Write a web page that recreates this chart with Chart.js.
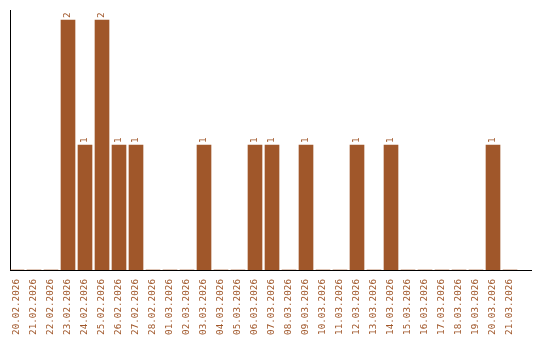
<!DOCTYPE html>
<html>
<head>
<meta charset="utf-8">
<script src="https://cdn.jsdelivr.net/npm/chart.js@4/dist/chart.umd.min.js"></script>
<style>
html,body{margin:0;padding:0;background:#fff;}
#wrap{width:540px;height:340px;}
</style>
</head>
<body>
<div id="wrap"><canvas id="c" width="540" height="340"></canvas></div>
<script>
const categories = ["20.02.2026","21.02.2026","22.02.2026","23.02.2026","24.02.2026","25.02.2026","26.02.2026","27.02.2026","28.02.2026","01.03.2026","02.03.2026","03.03.2026","04.03.2026","05.03.2026","06.03.2026","07.03.2026","08.03.2026","09.03.2026","10.03.2026","11.03.2026","12.03.2026","13.03.2026","14.03.2026","15.03.2026","16.03.2026","17.03.2026","18.03.2026","19.03.2026","20.03.2026","21.03.2026"];
const counts = [0,0,0,2,1,2,1,1,0,0,0,1,0,0,1,1,0,1,0,0,1,0,1,0,0,0,0,0,1,0];

const BROWN = '#a0572a';
const FONT = {family: "'DejaVu Sans Mono', monospace", size: 9.3};

const points = counts.map((v, i) => ({x: i, y: v}));

const valueLabels = {
  id: 'valueLabels',
  afterDatasetsDraw(chart) {
    const ctx = chart.ctx;
    const meta = chart.getDatasetMeta(0);
    ctx.save();
    ctx.fillStyle = BROWN;
    ctx.font = FONT.size + "px " + FONT.family;
    ctx.textAlign = 'left';
    ctx.textBaseline = 'middle';
    meta.data.forEach((bar, i) => {
      const v = counts[i];
      if (!v) return;
      ctx.save();
      ctx.translate(bar.x - 0.5, bar.y - 2);
      ctx.rotate(-Math.PI / 2);
      ctx.fillText(String(v), 0, 0);
      ctx.restore();
    });
    ctx.restore();
  }
};

new Chart(document.getElementById('c'), {
  type: 'bar',
  data: {
    datasets: [{
      data: points,
      backgroundColor: BROWN,
      borderWidth: 0,
      barThickness: 14
    }]
  },
  options: {
    responsive: false,
    animation: false,
    layout: {padding: {top: 10, left: 10, right: 9, bottom: 0}},
    plugins: {legend: {display: false}, tooltip: {enabled: false}},
    scales: {
      x: {
        type: 'linear',
        offset: false,
        min: -0.4118,
        max: 30.235,
        afterFit(scale) { scale.paddingLeft = 0; scale.paddingRight = 0; scale.height = 70; },
        grid: {display: false, drawTicks: false, offset: false},
        border: {display: true, color: '#000', width: 1},
        ticks: {
          stepSize: 1,
          includeBounds: false,
          autoSkip: false,
          minRotation: 90,
          maxRotation: 90,
          padding: 9,
          color: BROWN,
          font: FONT,
          callback: (val) => (Number.isInteger(val) && val >= 0 && val < categories.length) ? categories[val] : ''
        }
      },
      y: {
        min: 0,
        max: 2.08,
        afterFit(scale) { scale.width = 0; scale.paddingTop = 0; scale.paddingBottom = 0; },
        grid: {display: false, drawTicks: false},
        border: {display: true, color: '#000', width: 1},
        ticks: {display: false}
      }
    }
  },
  plugins: [valueLabels]
});
</script>
</body>
</html>
